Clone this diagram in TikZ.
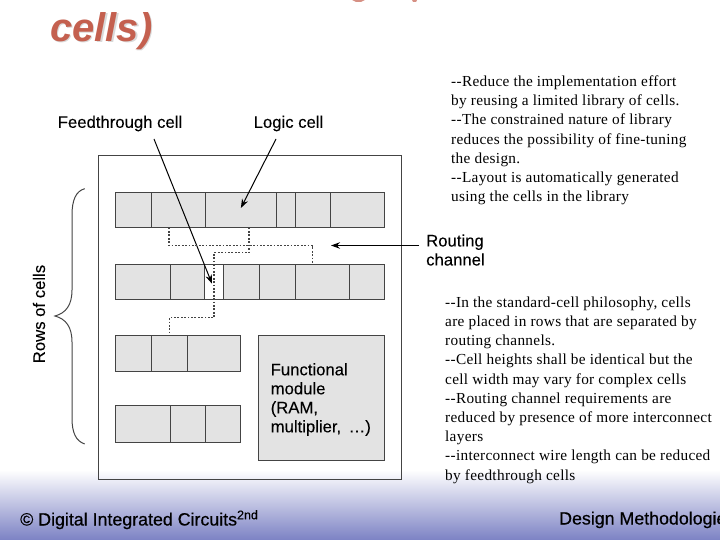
\documentclass[tikz,border=0pt]{standalone}
\usepackage{fontspec}
\setmainfont{Liberation Sans}
\newfontfamily\bodyfont[LetterSpace=2.0]{Liberation Serif}
\newfontfamily\tagfont[FakeBold=0.1]{Liberation Sans}
\newfontfamily\footfont[FakeBold=0.45]{Liberation Sans}
\usepackage{tikz}
\usetikzlibrary{positioning,calc,arrows.meta}
\definecolor{titlered}{HTML}{C4604F}
\definecolor{cellgray}{HTML}{E3E3E3}
\definecolor{linegray}{HTML}{444444}
\definecolor{footblue}{HTML}{7C82C4}

\begin{document}
\begin{tikzpicture}[
    x=1pt, y=-1pt,
    node distance=0pt,
    cell/.style={rectangle, draw=linegray, fill=cellgray, line width=1pt, inner sep=0pt, outer sep=0pt, minimum height=35.4pt},
    tag/.style={font=\tagfont\fontsize{16.7}{19}\selectfont, align=left, inner sep=0pt},
    titletext/.style={font=\fontsize{40}{44}\selectfont\bfseries\itshape, inner sep=0pt, anchor=base west},
    note/.style={font=\bodyfont\fontsize{15.3}{19.2}\selectfont, align=left, inner sep=0pt, anchor=north west},
    foot/.style={font=\footfont\fontsize{17.8}{20}\selectfont, inner sep=0pt, anchor=base west},
    arrow/.style={-{Stealth[length=9pt,width=6.5pt]}, line width=1pt, black},
    wire/.style={dash pattern=on 1.7pt off 1.7pt, line width=1.3pt, linegray}
]
\useasboundingbox (0,0) rectangle (720,540);
\clip (0,0) rectangle (720,540);

% Footer band
\node [rectangle, inner sep=0pt, outer sep=0pt, minimum width=720pt, minimum height=70pt, anchor=north west, top color=white, bottom color=footblue] (band) at (0,470) {};

% Title
\node [titletext, text=black!15] (titleshadow) at (51.5,42.5) {cells)};
\node [titletext, text=titlered] (title) at (50,41.5) {cells)};
\fill [titlered!70] (352,0) -- (365,0) -- (361,2) -- (356,2) -- cycle;
\fill [titlered!70] (412,0) -- (417,0) -- (416,2) -- (413,2) -- cycle;

% Chip outline
\node [rectangle, draw=linegray, line width=1pt, inner sep=0pt, outer sep=0pt, minimum width=303pt, minimum height=323.7pt, anchor=north west] (chip) at (98.3,155.3) {};

% Row 1
\node [cell, minimum width=36.9pt, anchor=north west] (a1) at (115,192.3) {};
\node [cell, minimum width=53.3pt, right=of a1] (a2) {};
\node [cell, minimum width=71.4pt, right=of a2] (a3) {};
\node [cell, minimum width=18.6pt, right=of a3] (a4) {};
\node [cell, minimum width=35.4pt, right=of a4] (a5) {};
\node [cell, minimum width=53.6pt, right=of a5] (a6) {};

% Row 2
\node [cell, minimum width=55.3pt, anchor=north west] (b1) at (115,264) {};
\node [cell, minimum width=34.4pt, right=of b1] (b2) {};
\node [cell, minimum width=18.6pt, right=of b2, fill=white] (b3) {};
\node [cell, minimum width=35.7pt, right=of b3] (b4) {};
\node [cell, minimum width=36pt, right=of b4] (b5) {};
\node [cell, minimum width=54pt, right=of b5] (b6) {};
\node [cell, minimum width=35.3pt, right=of b6] (b7) {};

% Row 3
\node [cell, minimum width=36.3pt, anchor=north west] (c1) at (115,335.7) {};
\node [cell, minimum width=36pt, right=of c1] (c2) {};
\node [cell, minimum width=53.4pt, right=of c2] (c3) {};

% Row 4
\node [cell, minimum width=55.3pt, minimum height=37pt, anchor=north west] (d1) at (115,405.3) {};
\node [cell, minimum width=35.4pt, minimum height=37pt, right=of d1] (d2) {};
\node [cell, minimum width=35pt, minimum height=37pt, right=of d2] (d3) {};

% Functional module
\node [cell, minimum width=126.3pt, minimum height=125pt, anchor=north west] (module) at (258,335.7) {};
\node [tag, anchor=north west] (modtext) at (270.5,363) {Functional\\module\\(RAM,\\multiplier, \,\dots)};

% Labels
\node [tag] (feedthrough) at (120,123.5) {Feedthrough cell};
\node [tag] (logic) at (288.5,123.5) {Logic cell};
\node [tag, anchor=west] (routing) at (426,250) {Routing\\channel};
\node [tag, rotate=90] (rows) at (39,314) {Rows of cells};

% Arrow ends
\coordinate (ftstart) at (154,139);
\coordinate (lgstart) at (276,139);
\coordinate (rtend) at (331,245.5);

% Arrows
\draw [arrow] (ftstart) -- ($(b3.center)+(-2,2)$);
\draw [arrow] (lgstart) -- ($(a3.center)+(0,-2)$);
\draw [arrow] ($(routing.west |- rtend)+(-7,0)$) -- (rtend);

% Routing wires
\draw [wire] ($(a2.south)+(-9.5,0)$) |- ($(b6.north)+(-9.5,-18.5)$) -- ($(b6.north)+(-9.5,0)$);
\draw [wire] ($(a3.south)+(8,0)$) |- ($(b3.north)+(0,-11.3)$) -- ($(b3.south)+(0,18.3)$) -| (c2.north);

% Rows brace
\coordinate (bracetop) at (84.7,188.7);
\coordinate (bracetip) at (55,316);
\coordinate (bracebot) at (84.7,444);
\draw [line width=1pt, linegray] (bracetop) .. controls (76,191) and (72,200) .. (72,215) -- (72,290) .. controls (72,305) and (66,313) .. (bracetip) .. controls (66,319) and (72,327) .. (72,342) -- (72,418) .. controls (72,433) and (76,441) .. (bracebot);

% Notes
\node [note] (note1) at (451,75.5) {--Reduce the implementation effort\\by reusing a limited library of cells.\\--The constrained nature of library\\reduces the possibility of fine-tuning\\the design.\\--Layout is automatically generated\\using the cells in the library};
\node [note] (note2) at (445,296.5) {--In the standard-cell philosophy, cells\\are placed in rows that are separated by\\routing channels.\\--Cell heights shall be identical but the\\cell width may vary for complex cells\\--Routing channel requirements are\\reduced by presence of more interconnect\\layers\\--interconnect wire length can be reduced\\by feedthrough cells};

% Footer text
\node [foot] (copyright) at (20,525.5) {© Digital Integrated Circuits\textsuperscript{2nd}};
\node [foot] (chapter) at (559,524.5) {Design Methodologies};

\end{tikzpicture}
\end{document}
